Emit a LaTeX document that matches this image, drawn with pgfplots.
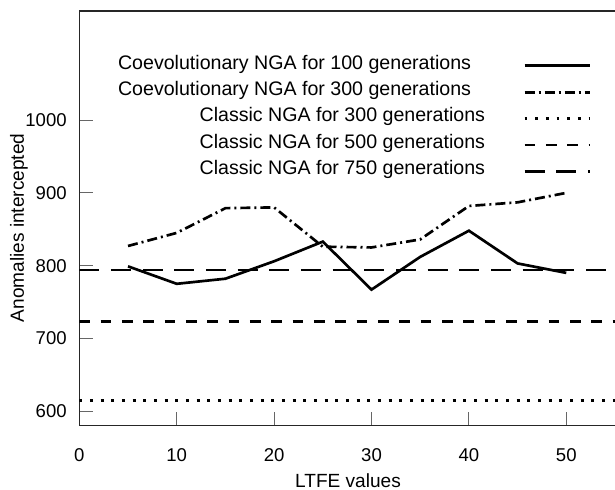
\documentclass[border=0pt]{standalone}
\usepackage{fontspec}
\setmainfont{Liberation Sans}
\usepackage{pgfplots}
\pgfplotsset{compat=1.18}

% LTFE sweep: coevolutionary runs against the classic NGA baselines
\pgfplotstableread{
x   y
5   799
10  775
15  782
20  806
25  833
30  767
35  812
40  848
45  803
50  790
}\coevA
\pgfplotstableread{
x   y
5   827
10  845
15  879
20  880
25  826
30  825
35  836
40  882
45  887
50  900
}\coevB

\begin{document}
\begin{tikzpicture}
\path[use as bounding box] (-59.5pt,-48.2pt) rectangle (401.75pt,319.25pt);
\begin{axis}[
  at={(0pt,0pt)}, anchor=south west,
  scale only axis, width=401.75pt, height=311pt,
  xmin=0, xmax=55, ymin=580, ymax=1150,
  axis x line=box, axis y line=left,
  axis line style={-, line width=1.1pt, black!85},
  xtick={0,10,20,30,40,50}, ytick={600,700,800,900,1000},
  xtick pos=bottom, ytick pos=left,
  tick align=inside, major tick length=10.5pt,
  major tick style={line width=0.7pt, black!60},
  /pgf/number format/assume math mode=true,
  /pgf/number format/1000 sep={},
  tick label style={font=\fontsize{13.9}{16}\selectfont},
  yticklabel style={inner sep=0pt, anchor=east, xshift=-9.3pt},
  xticklabel style={inner sep=0pt, anchor=north, yshift=-17pt},
  xlabel={LTFE values},
  ylabel={Anomalies intercepted},
  label style={font=\fontsize{14.3}{17}\selectfont},
  xlabel style={at={(axis description cs:0.5016,-0.1334)}, anchor=center},
  ylabel style={at={(axis description cs:-0.1125,0.477)}, anchor=center, rotate=0},
  legend plot pos=right,
  legend cell align=right,
  legend image code/.code={\draw[#1] (0pt,0pt) -- (48.75pt,0pt);},
  legend style={draw=none, fill=none, inner sep=0pt, outer sep=0pt,
    font=\fontsize{14.7}{17}\selectfont,
    nodes={inner sep=0pt, text height=0.75em, text depth=0.25em},
    row sep=9.8pt, column sep=28.5pt,
    at={(axis description cs:0.9552,0.884)}, anchor=north east},
]
\addplot[black, line width=2pt, line join=miter] table[x=x, y=y] {\coevA};
\addlegendentry{Coevolutionary NGA for 100 generations\hspace*{10.5pt}}

\addplot[black, line width=2pt, dash pattern=on 7.5pt off 3pt on 1.5pt off 3pt] table[x=x, y=y] {\coevB};
\addlegendentry{Coevolutionary NGA for 300 generations\hspace*{10.5pt}}

\addplot[black, line width=2.2pt, dash pattern=on 2.2pt off 5.8pt] coordinates {(0,614) (55,614)};
\addlegendentry{Classic NGA for 300 generations}

\addplot[black, line width=2pt, dash pattern=on 8pt off 8pt] coordinates {(0,723) (55,723)};
\addlegendentry{Classic NGA for 500 generations}

\addplot[black, line width=2pt, dash pattern=on 15pt off 8.75pt] coordinates {(0,794) (55,794)};
\addlegendentry{Classic NGA for 750 generations}
\end{axis}
\end{tikzpicture}
\end{document}
